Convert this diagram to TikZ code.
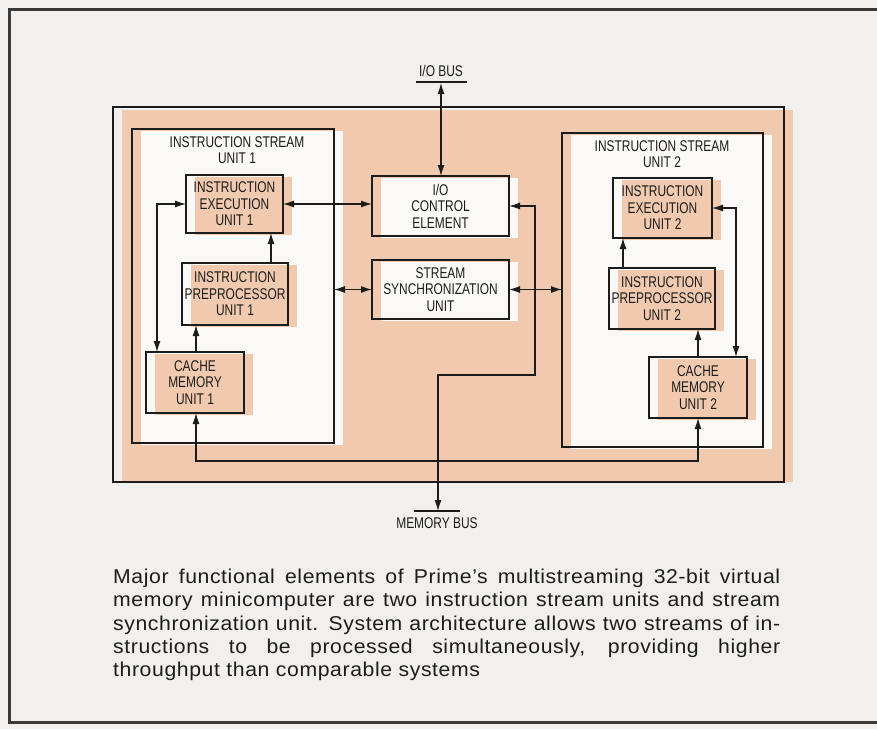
\documentclass[tikz,border=0pt]{standalone}
\usepackage{fontspec}
\setmainfont{Liberation Sans}
\newfontfamily\condfont{Liberation Sans}[FakeStretch=0.77]
\newfontfamily\capfont{Liberation Sans}[FakeStretch=1.06,LetterSpace=3]
\usetikzlibrary{arrows.meta,calc}
\definecolor{paper}{HTML}{F1F0EE}
\definecolor{peach}{HTML}{F0C9AF}
\definecolor{boxwhite}{HTML}{FAF9F7}
\definecolor{ink}{HTML}{1C1C1C}
\definecolor{framegray}{HTML}{3A3A3A}
\pgfdeclarelayer{bg}
\pgfsetlayers{bg,main}
\begin{document}
\begin{tikzpicture}[x=1pt,y=-1pt,
  frame/.style={draw=ink, line width=1.8pt, inner sep=0pt, outer sep=0pt},
  unitbox/.style={frame, align=center, font=\condfont\fontsize{15.5}{16.5}\selectfont, text=ink},
  lbl/.style={align=center, inner sep=0pt, font=\condfont\fontsize{15.5}{16}\selectfont, text=ink},
  conn/.style={draw=ink, line width=1.2pt},
  both/.style={conn, {Latex[length=11pt,width=7pt]}-{Latex[length=11pt,width=7pt]}},
  fwd/.style={conn, -{Latex[length=11pt,width=7pt]}},
  capline/.style={anchor=base west, inner sep=0pt, text=ink, font=\capfont\fontsize{20}{23}\selectfont}
]
\useasboundingbox (0,0) rectangle (877,729);
% page frame
\draw[framegray, line width=3pt] (877,9) -- (9,9) -- (9,722) -- (877,722);

% boxes
\node[frame, minimum width=671pt, minimum height=375pt] (main) at (448.5,294.5) {};
\node[frame, minimum width=202pt, minimum height=314pt] (ISU1) at (233,286) {};
\node[frame, minimum width=201pt, minimum height=314pt] (ISU2) at (662.5,290) {};
\node[lbl] (ISU1lbl) at (237,150) {INSTRUCTION STREAM\\UNIT 1};
\node[lbl] (ISU2lbl) at (662,154) {INSTRUCTION STREAM\\UNIT 2};
\node[unitbox, minimum width=97pt, minimum height=58pt] (IEU1) at (234.5,204) {INSTRUCTION\\EXECUTION\\UNIT 1};
\node[unitbox, minimum width=106pt, minimum height=62pt] (IPU1) at (235,294) {INSTRUCTION\\PREPROCESSOR\\UNIT 1};
\node[unitbox, minimum width=98pt, minimum height=61pt] (C1) at (195,382.5) {CACHE\\MEMORY\\UNIT 1};
\node[unitbox, minimum width=137pt, minimum height=60pt] (IO) at (440.5,206) {I/O\\CONTROL\\ELEMENT};
\node[unitbox, minimum width=137pt, minimum height=59pt] (SSU) at (440.5,289.5) {STREAM\\SYNCHRONIZATION\\UNIT};
\node[unitbox, minimum width=99pt, minimum height=60pt] (IEU2) at (662.5,208) {INSTRUCTION\\EXECUTION\\UNIT 2};
\node[unitbox, minimum width=106pt, minimum height=61pt] (IPU2) at (662,298.5) {INSTRUCTION\\PREPROCESSOR\\UNIT 2};
\node[unitbox, minimum width=98pt, minimum height=61pt] (C2) at (698,387.5) {CACHE\\MEMORY\\UNIT 2};

% fills (offset, as printed)
\begin{pgfonlayer}{bg}
\fill[paper] (0,0) rectangle (877,729);
\fill[peach] ($(main.north west)+(9,3)$) rectangle ($(main.south east)+(9,0)$);
\foreach \n in {ISU1,ISU2,IO,SSU}
  \fill[boxwhite] ($(\n.north west)+(9,2)$) rectangle ($(\n.south east)+(9,2)$);
\foreach \n in {IEU1,IPU1,C1,IEU2,IPU2,C2}
  \fill[peach] ($(\n.north west)+(9,2)$) rectangle ($(\n.south east)+(9,2)$);
\end{pgfonlayer}

% buses
\coordinate (iobus) at (441,83);
\node[lbl] (iobuslbl) at (441,71) {I/O BUS};
\draw[ink, line width=1.5pt] ($(iobus)+(-25,-1)$) -- ($(iobus)+(26,-1)$);
\coordinate (membus) at (438,511);
\node[lbl] (membuslbl) at (437,523) {MEMORY BUS};
\draw[ink, line width=1.5pt] ($(membus)+(-24,0)$) -- ($(membus)+(22,0)$);

% helper coordinates
\coordinate (xa) at (271,0);
\coordinate (xb) at (196,0);
\coordinate (xc) at (157,0);
\coordinate (xd) at (736,0);
\coordinate (xe) at (623,0);
\coordinate (m1) at (535,375);
\coordinate (b1) at (196,461);
\coordinate (b2) at (698,461);

% connectors
\draw[both] (iobus) -- (iobus |- IO.north);
\draw[both] (IEU1.east) -- (IEU1.east -| IO.west);
\draw[fwd] (xa |- IPU1.north) -- (xa |- IEU1.south);
\draw[fwd] (xb |- C1.north) -- (xb |- IPU1.south);
\draw[both] (IEU1.west) -- (IEU1.west -| xc) -- (xc |- C1.north);
\draw[both] (SSU.west -| ISU1.east) -- (SSU.west);
\draw[both] (SSU.east) -- (SSU.east -| ISU2.west);
\draw[both] (IO.east) -- (IO.east -| m1) -- (m1) -- (m1 -| membus) -- (membus);
\draw[both] (b1 |- C1.south) -- (b1) -- (b2) -- (b2 |- C2.south);
\draw[fwd] (C2.north) -- (C2.north |- IPU2.south);
\draw[fwd] (xe |- IPU2.north) -- (xe |- IEU2.south);
\draw[both] (IEU2.east) -- (IEU2.east -| xd) -- (xd |- C2.north);

% caption
\node[capline] (cap1) at (113,583) {\makebox[667pt][s]{Major functional elements of Prime’s multistreaming 32-bit virtual}};
\node[capline] (cap2) at (113,606) {\makebox[667pt][s]{memory minicomputer are two instruction stream units and stream}};
\node[capline] (cap3) at (113,630) {\makebox[667pt][s]{synchronization unit. System architecture allows two streams of in-}};
\node[capline] (cap4) at (113,653) {\makebox[667pt][s]{structions to be processed simultaneously, providing higher}};
\node[capline] (cap5) at (113,676) {throughput than comparable systems};
\end{tikzpicture}
\end{document}
